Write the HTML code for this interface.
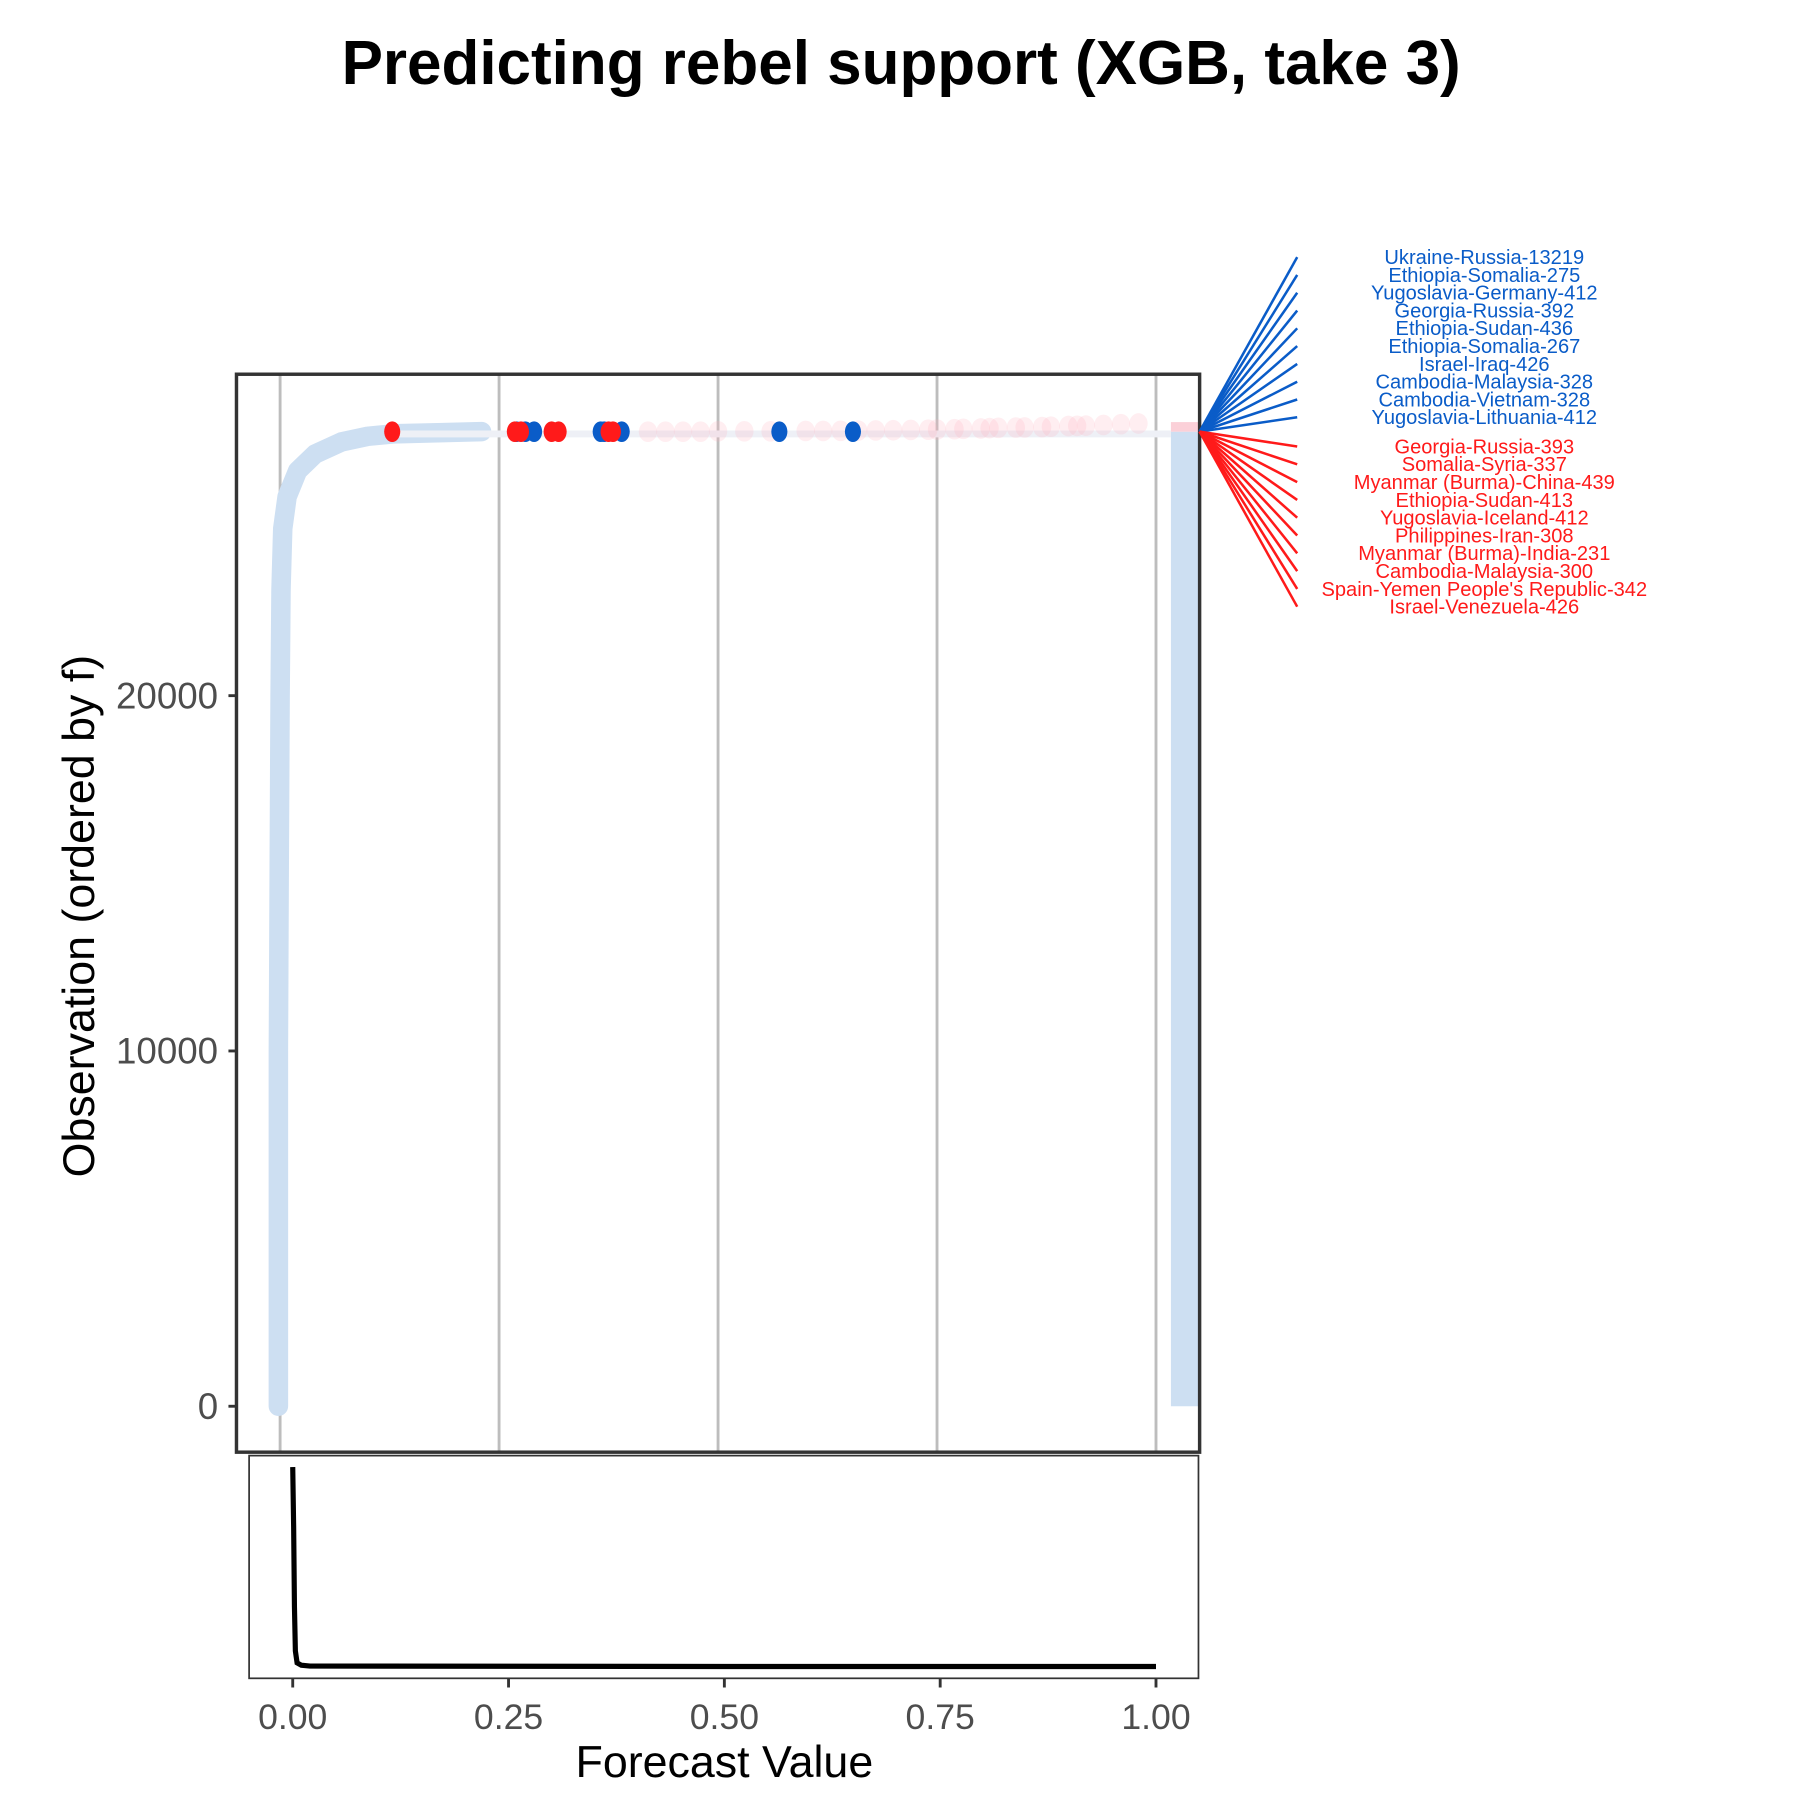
<!DOCTYPE html>
<html><head><meta charset="utf-8"><style>
html,body{margin:0;padding:0;background:#fff;}
svg{display:block;font-family:"Liberation Sans",Arial,sans-serif;}
</style></head><body>
<svg id="chart" width="1800" height="1800" viewBox="0 0 1568 1568">
<text x="785" y="73" text-anchor="middle" font-size="54" font-weight="bold">Predicting rebel support (XGB, take 3)</text>
<g id="main"></g>
<g id="dens"></g>
<g id="labels"></g>
<text x="631" y="1548" text-anchor="middle" font-size="39">Forecast Value</text>
<text transform="translate(82,798) rotate(-90)" text-anchor="middle" font-size="39">Observation (ordered by f)</text>
</svg>
<script>
const curveObs=[0,5000,10000,15000,20000,23000,24700,25600,26330,26800,27140,27300,27370,27400,27430];
const curveF=[-0.002,-0.002,-0.002,-0.001,0.0,0.001,0.003,0.008,0.02,0.04,0.07,0.1,0.13,0.18,0.23];
const redF=[0.128,0.268,0.275,0.31,0.318,0.375,0.38];
const blueF=[0.27,0.28,0.29,0.366,0.37,0.39,0.57,0.654];
const pinkF=[0.42,0.44,0.46,0.48,0.5,0.53,0.56,0.6,0.62,0.64,0.66,0.68,0.7,0.72,0.74,0.75,0.77,0.78,0.8,0.81,0.82,0.84,0.85,0.87,0.88,0.9,0.91,0.92,0.94,0.96,0.98];
const pinkObs=[27430,27430,27430,27430,27440,27440,27440,27450,27450,27455,27460,27465,27470,27480,27485,27490,27500,27510,27520,27530,27540,27545,27550,27560,27570,27590,27595,27600,27620,27640,27660];
const yTicks=[0,10000,20000];
const xTicks=[0,0.25,0.5,0.75,1.0];
const xTickLabels=["0.00","0.25","0.50","0.75","1.00"];
const densX=[0,0.001,0.002,0.003,0.005,0.01,0.02,0.5,1.0];
const densY=[1,0.7,0.3,0.08,0.02,0.008,0.004,0.002,0.002];
const blueLabels=["Ukraine-Russia-13219","Ethiopia-Somalia-275","Yugoslavia-Germany-412","Georgia-Russia-392","Ethiopia-Sudan-436","Ethiopia-Somalia-267","Israel-Iraq-426","Cambodia-Malaysia-328","Cambodia-Vietnam-328","Yugoslavia-Lithuania-412"];
const redLabels=["Georgia-Russia-393","Somalia-Syria-337","Myanmar (Burma)-China-439","Ethiopia-Sudan-413","Yugoslavia-Iceland-412","Philippines-Iran-308","Myanmar (Burma)-India-231","Cambodia-Malaysia-300","Spain-Yemen People's Republic-342","Israel-Venezuela-426"];
const NS="http://www.w3.org/2000/svg";
function mk(p,t,a){const e=document.createElementNS(NS,t);for(const k in a)e.setAttribute(k,a[k]);p.appendChild(e);return e;}
const xm=v=>244+763*v, ym=o=>1225-o*0.03095;
const xd=v=>255+752*v, yd=d=>1452-d*174;
const M=document.getElementById('main');
let r=mk(M,'rect',{x:206,y:326,width:839,height:939,fill:'#fff'});

xTicks.forEach(v=>{const l=mk(M,'line',{x1:xm(v),x2:xm(v),y1:326,y2:1265,stroke:'#bdbdbd','stroke-width':2.5});
});
yTicks.forEach(t=>{const l=mk(M,'line',{x1:199,x2:206,y1:ym(t),y2:ym(t),stroke:'#333','stroke-width':2.5});

const tx=mk(M,'text',{x:190,y:ym(t)+11,'text-anchor':'end','font-size':32,fill:'#4d4d4d'});tx.textContent=t;
});
let c=mk(M,'rect',{x:1020,y:ym(27430),width:25,height:ym(0)-ym(27430),fill:'#cddff2'});

c=mk(M,'rect',{x:1020,y:ym(27700),width:25,height:ym(27430)-ym(27700),fill:'#fbd0d8'});

let d=curveObs.map((o,i)=>(i?'L':'M')+xm(curveF[i]).toFixed(1)+','+ym(o).toFixed(1)).join(' ');
let p=mk(M,'path',{d:d,fill:'none',stroke:'#cddff2','stroke-width':17,'stroke-linecap':'round','stroke-linejoin':'round'});

let ln=mk(M,'line',{x1:xm(0.13),x2:1020,y1:ym(27430)+2,y2:ym(27430)+2,stroke:'#eef0f6','stroke-width':6});

pinkF.forEach((v,i)=>{const e=mk(M,'ellipse',{cx:xm(v),cy:ym(pinkObs[i]),rx:8,ry:9,fill:'#ffb3c0','fill-opacity':0.22});
});
blueF.forEach(v=>{const e=mk(M,'ellipse',{cx:xm(v),cy:ym(27430),rx:7,ry:9,fill:'#0a5cc8'});
});
redF.forEach(v=>{const e=mk(M,'ellipse',{cx:xm(v),cy:ym(27430),rx:7,ry:9,fill:'#ff1a1a'});
});
r=mk(M,'rect',{x:206,y:326,width:839,height:939,fill:'none',stroke:'#333','stroke-width':3});

const D=document.getElementById('dens');
r=mk(D,'rect',{x:217,y:1268,width:827,height:194,fill:'#fff',stroke:'#333','stroke-width':1.5});

d=densX.map((v,i)=>(i?'L':'M')+xd(v).toFixed(1)+','+yd(densY[i]).toFixed(1)).join(' ');
p=mk(D,'path',{d:d,fill:'none',stroke:'#000','stroke-width':4.5});

xTicks.forEach((v,i)=>{const l=mk(D,'line',{x1:xd(v),x2:xd(v),y1:1462,y2:1470,stroke:'#333','stroke-width':2.5});

const t=mk(D,'text',{x:xd(v),y:1506,'text-anchor':'middle','font-size':31,fill:'#4d4d4d'});t.textContent=xTickLabels[i];
});
const L=document.getElementById('labels');
function lab(arr,y0,col,nm){arr.forEach((s,i)=>{const y=y0+i*15.5;
const l=mk(L,'line',{x1:1045,y1:376,x2:1130,y2:y,stroke:col,'stroke-width':2.2});

const t=mk(L,'text',{x:1293,y:y+6,'text-anchor':'middle','font-size':17.5,fill:col});t.textContent=s;
});}
lab(blueLabels,224,'#0a5cc8','blue');
lab(redLabels,389,'#ff1a1a','red');
</script>
</body></html>
